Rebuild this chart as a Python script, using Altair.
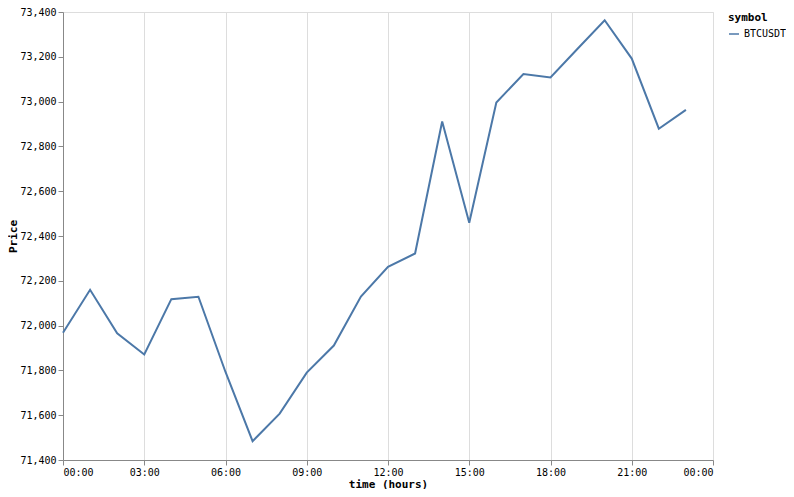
import altair as alt
import pandas as pd

hours = list(range(24))
prices = [71968, 72160, 71966, 71871, 72118, 72129, 71793, 71484, 71607, 71790,
          71911, 72130, 72262, 72322, 72911, 72459, 72996, 73123, 73108, 73236,
          73363, 73192, 72879, 72963]
symbols = ["BTCUSDT"] * 24
hour_ticks = [0, 3, 6, 9, 12, 15, 18, 21, 24]
price_ticks = [71400, 71600, 71800, 72000, 72200, 72400, 72600, 72800, 73000, 73200, 73400]

df = pd.DataFrame({"hour": hours, "price": prices, "symbol": symbols})

chart = alt.Chart(df).mark_line(strokeWidth=2).encode(
    x=alt.X("hour:Q", title="time (hours)",
            scale=alt.Scale(domain=[0, 24], nice=False, zero=False),
            axis=alt.Axis(values=hour_ticks, titlePadding=1,
                          labelExpr="(datum.value % 24 < 10 ? '0' : '') + (datum.value % 24) + ':00'")),
    y=alt.Y("price:Q", title="Price",
            scale=alt.Scale(domain=[71400, 73400], zero=False, nice=False),
            axis=alt.Axis(grid=False, values=price_ticks, titlePadding=1)),
    color=alt.Color("symbol:N", title="symbol", legend=alt.Legend(offset=15)),
).properties(
    width=650, height=448,
    autosize=alt.AutoSizeParams(type="none"),
    padding={"left": 55, "top": 4, "right": 73, "bottom": 29},
).configure(
    font="DejaVu Sans Mono"
).configure_axis(
    labelFont="DejaVu Sans Mono", titleFont="DejaVu Sans Mono"
).configure_legend(
    labelFont="DejaVu Sans Mono", titleFont="DejaVu Sans Mono"
)

chart.save("out.html", embed_options={"renderer": "svg", "actions": False})
